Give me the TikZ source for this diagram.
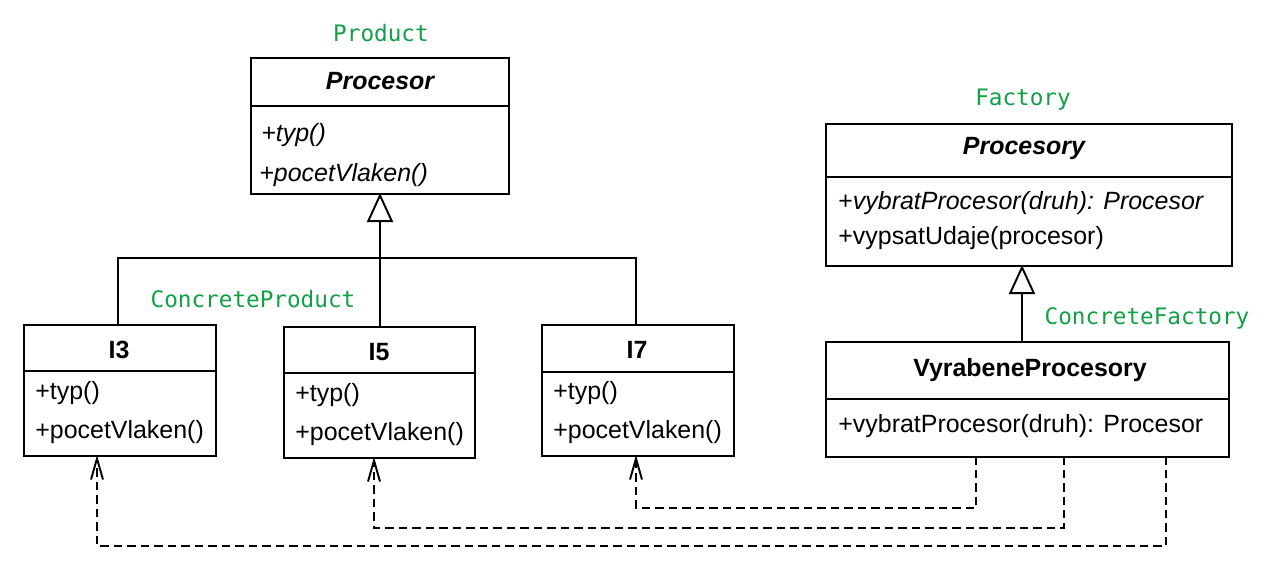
\documentclass[tikz,border=0pt]{standalone}
\usepackage{fontspec}
\setmainfont{Liberation Sans}
\newfontfamily\codefont{DejaVu Sans Mono}
\usetikzlibrary{arrows.meta,calc}
\definecolor{lbl}{RGB}{16,160,70}
\begin{document}
\begin{tikzpicture}[x=0.02cm,y=-0.02cm,
  cls/.style={draw, line width=1.1pt, inner sep=0pt, anchor=north west},
  ttl/.style={font=\fontsize{14.2}{16}\selectfont\bfseries},
  att/.style={font=\fontsize{14.2}{16}\selectfont, anchor=west, inner sep=0pt},
  tag/.style={font=\fontsize{12.9}{15}\selectfont\codefont, text=lbl},
  gen/.style={line width=1.1pt, -{Triangle[open, length=0.58cm, width=0.52cm, line width=1.1pt]}},
  link/.style={line width=1.1pt},
  dep/.style={line width=1.1pt, dash pattern=on 0.17cm off 0.1cm, -{Straight Barb[length=0.42cm, width=0.24cm, line width=1.1pt]}}
]
\path[use as bounding box, fill=white] (0,0) rectangle (1271,572);

% Procesor
\node[cls, minimum width=5.16cm, minimum height=2.72cm] (P) at (250,57) {};
\draw[line width=1.1pt] (250,106) -- (508,106);
\node[ttl, font=\fontsize{14.2}{16}\selectfont\bfseries\itshape] (Pt) at (380,81) {Procesor};
\node[att, font=\fontsize{14.2}{16}\selectfont\itshape] (Pa) at (261,135) {+typ()};
\node[att, font=\fontsize{14.2}{16}\selectfont\itshape] (Pb) at (259,175) {+pocetVlaken()};
\node[tag] (tP) at (381,33) {Product};

% I3
\node[cls, minimum width=3.84cm, minimum height=2.62cm] (I3) at (23,324) {};
\draw[line width=1.1pt] (23,371) -- (215,371);
\node[ttl] (I3t) at (119,350) {I3};
\node[att] (I3a) at (35,393) {+typ()};
\node[att] (I3b) at (35,432) {+pocetVlaken()};

% I5
\node[cls, minimum width=3.82cm, minimum height=2.62cm] (I5) at (283,326) {};
\draw[line width=1.1pt] (283,373) -- (474,373);
\node[ttl] (I5t) at (379,352) {I5};
\node[att] (I5a) at (295,395) {+typ()};
\node[att] (I5b) at (295,434) {+pocetVlaken()};

% I7
\node[cls, minimum width=3.84cm, minimum height=2.62cm] (I7) at (541,324) {};
\draw[line width=1.1pt] (541,372) -- (733,372);
\node[ttl] (I7t) at (637,350) {I7};
\node[att] (I7a) at (553,393) {+typ()};
\node[att] (I7b) at (553,432) {+pocetVlaken()};

\node[tag] (tC) at (253,299) {ConcreteProduct};

% Procesory
\node[cls, minimum width=8.12cm, minimum height=2.84cm] (F) at (825,123) {};
\draw[line width=1.1pt] (825,177) -- (1231,177);
\node[ttl, font=\fontsize{14.2}{16}\selectfont\bfseries\itshape] (Ft) at (1024,149) {Procesory};
\node[att] (Fa) at (838,203) {+\textit{vybratProcesor(druh): Procesor}};
\node[att] (Fb) at (838,238) {+vypsatUdaje(procesor)};
\node[tag] (tF) at (1023,100) {Factory};

% VyrabeneProcesory
\node[cls, minimum width=8.06cm, minimum height=2.30cm] (V) at (825,341) {};
\draw[line width=1.1pt] (825,399) -- (1228,399);
\node[ttl] (Vt) at (1030,370) {VyrabeneProcesory};
\node[att] (Va) at (838,426) {+vybratProcesor(druh): Procesor};
\node[tag] (tV) at (1147,318) {ConcreteFactory};

% generalisation: products
\coordinate (j) at (380,258);
\coordinate (pb) at (380,193);
\draw[link] (I3.north -| 118,0) |- (j) -| (I7.north -| 636,0);
\draw[gen] (I5.north -| 380,0) -- (pb);

% generalisation: factory
\coordinate (fb) at (1022,265);
\coordinate (vt) at (1022,341);
\draw[gen] (vt) -- (fb);

% dependencies
\coordinate (v1) at (976,456);
\coordinate (v2) at (1064,456);
\coordinate (v3) at (1166,456);
\coordinate (a7) at (636,455);
\coordinate (a5) at (374,457);
\coordinate (a3) at (97,455);
\draw[dep] (v1) -- (976,508) -| (a7);
\draw[dep] (v2) -- (1064,528) -| (a5);
\draw[dep] (v3) -- (1166,546) -| (a3);
\end{tikzpicture}
\end{document}
